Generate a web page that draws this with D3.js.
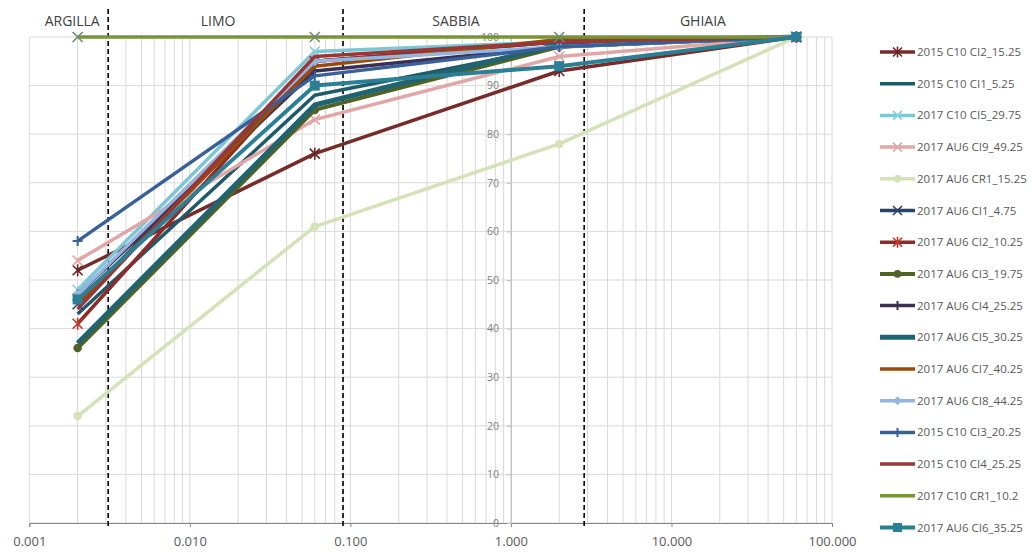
<!DOCTYPE html>
<html><head><meta charset="utf-8">
<script src="https://cdn.jsdelivr.net/npm/d3@7"></script>
<style>
body{margin:0;background:#fff;}
text{font-family:"Open Sans",sans-serif;}
</style>
</head><body>
<svg id="chart" width="1034" height="553"></svg>
<script>
// ---- data ----
const xPoints = [0.002, 0.06, 2, 60];
const seriesNames = [
  "2015 C10 CI2_15.25","2015 C10 CI1_5.25","2017 C10 CI5_29.75","2017 AU6 CI9_49.25",
  "2017 AU6 CR1_15.25","2017 AU6 CI1_4.75","2017 AU6 CI2_10.25","2017 AU6 CI3_19.75",
  "2017 AU6 CI4_25.25","2017 AU6 CI5_30.25","2017 AU6 CI7_40.25","2017 AU6 CI8_44.25",
  "2015 C10 CI3_20.25","2015 C10 CI4_25.25","2017 C10 CR1_10.2","2017 AU6 CI6_35.25"
];
const seriesValues = [
  [52, 76, 93, 100],
  [43, 88, 98, 100],
  [48, 97, 99, 100],
  [54, 83, 96, 100],
  [22, 61, 78, 100],
  [45, 95, 99, 100],
  [41, 95, 99, 100],
  [36, 85, 98, 100],
  [47, 93, 98, 100],
  [37, 86, 98.5, 100],
  [45, 94, 99.5, 100],
  [47, 95, 98, 100],
  [58, 92, 98, 100],
  [44, 96, 99, 100],
  [100, 100, 100, 100],
  [46, 90, 94, 100]
];
const zoneNames = ["ARGILLA", "LIMO", "SABBIA", "GHIAIA"];
const zoneBoundaries = [0.0031, 0.09, 2.86];
const xTickValues = [0.001, 0.01, 0.1, 1, 10, 100];
const xTickLabels = ["0.001", "0.010", "0.100", "1.000", "10.000", "100.000"];
const yTickValues = [0, 10, 20, 30, 40, 50, 60, 70, 80, 90, 100];

// ---- styles ----
const lineColors = ["#772C2A","#1F5A68","#7CC6D5","#E3A6A6","#D4E2B8","#2A4468","#8E2A2A","#4F6228",
                    "#3B3050","#1F6470","#9A4A0C","#93B5E0","#38609A","#983836","#77933C","#2A7F95"];
const markerTypes = ["asterisk",null,"x","x","circle","x","asterisk","circle",
                     "plus",null,null,"diamond","plus",null,"x","square"];
const markerColors = ["#6B2626",null,"#8CCFDC","#E3A6A6","#D4E2B8","#2A4468","#C0392B","#4F6228",
                      "#3B3050",null,null,"#93B5E0","#38609A",null,"#6E8C6E","#2A7F95"];
const lineWidths = [3.5,3.5,3.5,3.5,3.5,3.5,3.5,4,3.5,5,3.5,3.5,3.5,3.5,3.5,4];
const legendShowMarker = [true,true,true,true,true,true,true,true,true,true,true,true,true,true,false,true];
const zoneLabelAt = [0.00185, 0.015, 0.455, 15.7];

// ---- chart ----
const svg = d3.select("#chart");
const x = d3.scaleLog().domain([0.001, 100]).range([29.3, 832]);
const y = d3.scaleLinear().domain([0, 100]).range([523, 37]);

// grid
const minor = [];
for (let e = -3; e < 2; e++) for (let m = 1; m <= 9; m++) minor.push(m * Math.pow(10, e));
minor.push(100);
svg.append("g").selectAll("line").data(minor).join("line")
  .attr("x1", d => x(d)).attr("x2", d => x(d)).attr("y1", y(0)).attr("y2", y(100))
  .attr("stroke", "#D9D9D9").attr("stroke-width", 1);
svg.append("g").selectAll("line").data(yTickValues).join("line")
  .attr("x1", x(0.001)).attr("x2", x(100)).attr("y1", d => y(d)).attr("y2", d => y(d))
  .attr("stroke", "#D9D9D9").attr("stroke-width", 1);

// x axis
const xAxis = d3.axisBottom(x).tickValues(xTickValues)
  .tickFormat((d, i) => xTickLabels[i]).tickSize(4).tickPadding(10);
const gx = svg.append("g").attr("transform", `translate(0,${y(0)})`).call(xAxis);
gx.select(".domain").attr("stroke", "#868686");
gx.selectAll(".tick line").attr("stroke", "#868686");
gx.selectAll("text").attr("fill", "#595959").style("font-size", "13px");

// y axis crossing at x = 1
const yAxis = d3.axisLeft(y).tickValues(yTickValues).tickSize(4).tickPadding(8);
const gy = svg.append("g").attr("transform", `translate(${x(1)},0)`).call(yAxis);
gy.select(".domain").attr("stroke", "#BFBFBF");
gy.selectAll(".tick line").attr("stroke", "#BFBFBF");
gy.selectAll("text").attr("fill", "#7F7F7F").style("font-size", "10.5px");

// zone boundaries
svg.append("g").selectAll("line").data(zoneBoundaries).join("line")
  .attr("x1", d => x(d)).attr("x2", d => x(d)).attr("y1", 9).attr("y2", 526)
  .attr("stroke", "#000").attr("stroke-width", 1.6).attr("stroke-dasharray", "5,3");
svg.append("g").selectAll("text").data(zoneNames).join("text")
  .attr("x", (d, i) => x(zoneLabelAt[i])).attr("y", 26)
  .attr("text-anchor", "middle").attr("fill", "#404040").style("font-size", "14px")
  .text(d => d);

// marker drawing
function drawMarker(g, type, cx, cy, color, s) {
  const h = s / 2;
  if (type === "x" || type === "asterisk") {
    g.append("path").attr("d", `M${cx-h},${cy-h}L${cx+h},${cy+h}M${cx-h},${cy+h}L${cx+h},${cy-h}` +
      (type === "asterisk" ? `M${cx},${cy-h-1}L${cx},${cy+h+1}` : ""))
      .attr("stroke", color).attr("stroke-width", 1.6).attr("fill", "none");
  } else if (type === "plus") {
    g.append("path").attr("d", `M${cx-h},${cy}L${cx+h},${cy}M${cx},${cy-h}L${cx},${cy+h}`)
      .attr("stroke", color).attr("stroke-width", 2).attr("fill", "none");
  } else if (type === "circle") {
    g.append("circle").attr("cx", cx).attr("cy", cy).attr("r", h * 0.85).attr("fill", color);
  } else if (type === "square") {
    g.append("rect").attr("x", cx - h).attr("y", cy - h).attr("width", s).attr("height", s).attr("fill", color);
  } else if (type === "diamond") {
    g.append("path").attr("d", `M${cx},${cy-h}L${cx+h},${cy}L${cx},${cy+h}L${cx-h},${cy}Z`).attr("fill", color);
  }
}

// series
const line = d3.line().x((d, i) => x(xPoints[i])).y(d => y(d));
seriesValues.forEach((vals, si) => {
  const g = svg.append("g");
  g.append("path").attr("d", line(vals)).attr("fill", "none")
    .attr("stroke", lineColors[si]).attr("stroke-width", lineWidths[si])
    .attr("stroke-linejoin", "round");
  if (markerTypes[si]) {
    vals.forEach((v, i) => drawMarker(g, markerTypes[si], x(xPoints[i]), y(v), markerColors[si], 10));
  }
});

// legend
const lg = svg.append("g");
seriesNames.forEach((name, i) => {
  const ly = 52 + i * 31.7;
  lg.append("line").attr("x1", 880).attr("x2", 915).attr("y1", ly).attr("y2", ly)
    .attr("stroke", lineColors[i]).attr("stroke-width", lineWidths[i]);
  if (markerTypes[i] && legendShowMarker[i]) drawMarker(lg, markerTypes[i], 897.5, ly, markerColors[i], 9);
  lg.append("text").attr("x", 917).attr("y", ly).attr("dy", "0.35em")
    .attr("fill", "#595959").style("font-size", "11.5px").text(name);
});
</script>
</body></html>
